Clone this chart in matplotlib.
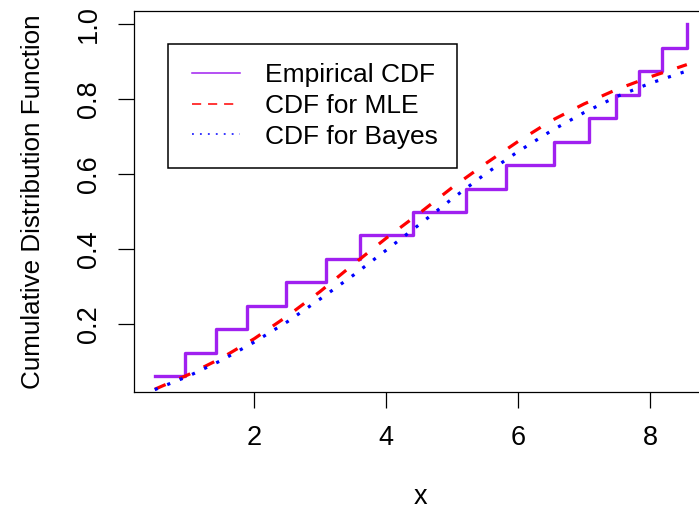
import matplotlib
matplotlib.use("Agg")
import matplotlib.pyplot as plt
from matplotlib.lines import Line2D
from matplotlib.legend_handler import HandlerLine2D

plt.rcParams["font.family"] = ["Liberation Sans", "DejaVu Sans"]

# sorted sample (read from the step positions of the empirical CDF)
sample_x = [0.490, 0.947, 1.418, 1.883, 2.475, 3.081, 3.602, 4.410,
            5.205, 5.816, 6.544, 7.075, 7.480, 7.833, 8.187, 8.557]
ecdf_y = [(i + 1) / len(sample_x) for i in range(len(sample_x))]

# fitted CDF curves
curve_x = [0.49, 1.0, 1.5, 2.0, 2.5, 3.0, 3.5, 4.0, 4.5, 5.0, 5.5,
           6.0, 6.5, 7.0, 7.5, 8.0, 8.56]
mle_cdf = [0.027, 0.066, 0.110, 0.162, 0.222, 0.288, 0.360, 0.430, 0.496,
           0.565, 0.628, 0.688, 0.743, 0.788, 0.827, 0.860, 0.893]
bayes_cdf = [0.026, 0.062, 0.104, 0.153, 0.207, 0.268, 0.331, 0.398, 0.466,
             0.535, 0.601, 0.661, 0.716, 0.765, 0.808, 0.843, 0.876]

labels = ["Empirical CDF", "CDF for MLE", "CDF for Bayes"]
colors = {"ecdf": "#A020F0", "mle": "#FF0000", "bayes": "#0000FF"}

W, H = 699, 523
fig = plt.figure(figsize=(W / 100, H / 100), dpi=100)

span = sample_x[-1] - sample_x[0]
xlim = (sample_x[0] - 0.04 * span, sample_x[-1] + 0.04 * span)
px_per_unit = 65.93
ax = fig.add_axes([133.5 / W, (H - 391.7) / H, (xlim[1] - xlim[0]) * px_per_unit / W, 381.0 / H])

ax.step(sample_x, ecdf_y, where="post", color=colors["ecdf"], lw=2.4)
ax.plot(curve_x, mle_cdf, color=colors["mle"], lw=2.3, dashes=(3.7, 4.7))
ax.plot(curve_x, bayes_cdf, color=colors["bayes"], lw=2.3, dashes=(1, 3.2))

ax.set_xlim(*xlim)
ax.set_ylim(0.0205, 1.0368)
ax.set_xticks([2, 4, 6, 8])
ax.set_yticks([0.2, 0.4, 0.6, 0.8, 1.0])
ax.set_yticklabels(["0.2", "0.4", "0.6", "0.8", "1.0"])

for s in ax.spines.values():
    s.set_linewidth(0.9)
ax.tick_params(length=11.5, width=0.9, labelsize=19.5)
ax.tick_params(axis="x", pad=12.4)
ax.tick_params(axis="y", pad=11, labelrotation=90)
for lab in ax.get_yticklabels():
    lab.set_va("center")

ax.set_xlabel("x", fontsize=19.5, labelpad=24)
ax.set_ylabel("Cumulative Distribution Function", fontsize=18.7, labelpad=22.5)

handles = [
    Line2D([], [], color=colors["ecdf"], lw=1.1),
    Line2D([], [], color=colors["mle"], lw=1.1, dashes=(6, 4.5)),
    Line2D([], [], color=colors["bayes"], lw=1.1, dashes=(1.2, 4)),
]
leg = ax.legend(handles, labels, loc="upper left", bbox_to_anchor=(168.3 / W, 1 - 44 / H),
                bbox_transform=fig.transFigure, borderaxespad=0, fontsize=19,
                fancybox=False, framealpha=1, edgecolor="black", borderpad=0.72,
                handlelength=2.0, handletextpad=0.95, labelspacing=0.26,
                handler_map={Line2D: HandlerLine2D(xpad=0.17)})
leg.get_frame().set_linewidth(1.1)

fig.savefig("out.png", dpi=100)
